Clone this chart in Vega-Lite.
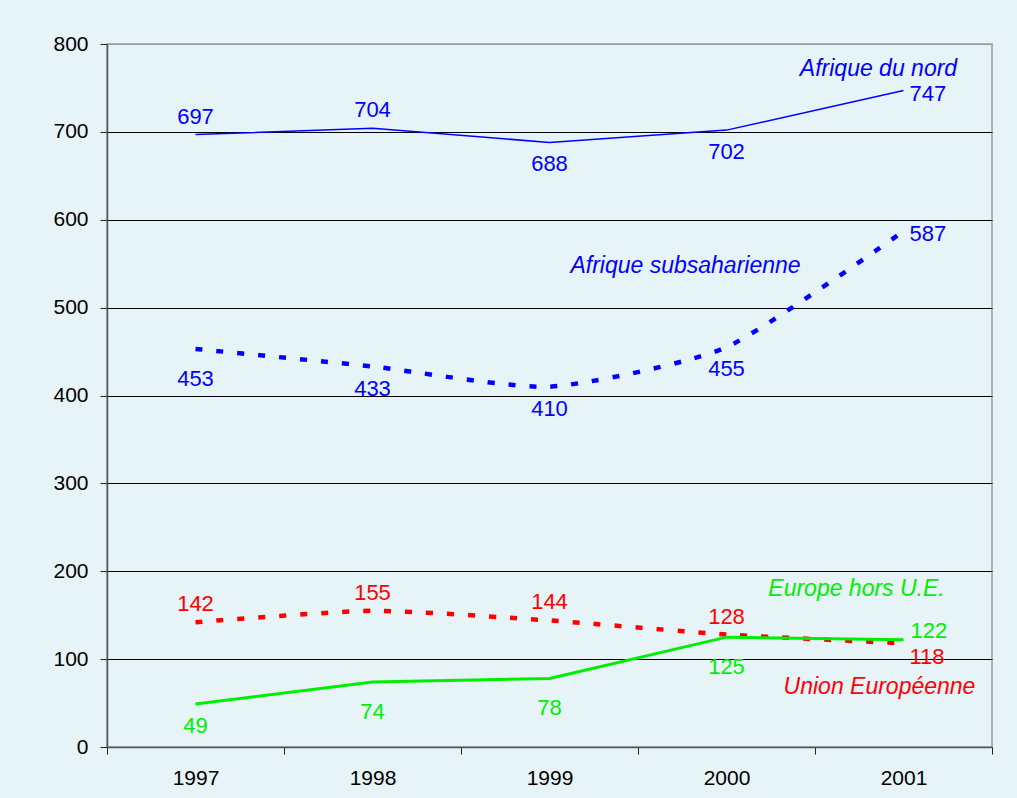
{
  "$schema": "https://vega.github.io/schema/vega-lite/v6.json",
  "width": 885,
  "height": 703,
  "autosize": {"type": "none"},
  "padding": {"left": 107, "top": 44, "right": 25, "bottom": 51},
  "background": "#E6F4F8",
  "config": {
    "font": "Liberation Sans",
    "view": {"stroke": "#9a9a9a", "strokeWidth": 1.5, "fill": "#E6F4F8"}
  },
  "data": {
    "values": [
      {"series": "Afrique du nord", "year": "1997", "value": 697},
      {"series": "Afrique du nord", "year": "1998", "value": 704},
      {"series": "Afrique du nord", "year": "1999", "value": 688},
      {"series": "Afrique du nord", "year": "2000", "value": 702},
      {"series": "Afrique du nord", "year": "2001", "value": 747},
      {"series": "Afrique subsaharienne", "year": "1997", "value": 453},
      {"series": "Afrique subsaharienne", "year": "1998", "value": 433},
      {"series": "Afrique subsaharienne", "year": "1999", "value": 410},
      {"series": "Afrique subsaharienne", "year": "2000", "value": 455},
      {"series": "Afrique subsaharienne", "year": "2001", "value": 587},
      {"series": "Union Européenne", "year": "1997", "value": 142},
      {"series": "Union Européenne", "year": "1998", "value": 155},
      {"series": "Union Européenne", "year": "1999", "value": 144},
      {"series": "Union Européenne", "year": "2000", "value": 128},
      {"series": "Union Européenne", "year": "2001", "value": 118},
      {"series": "Europe hors U.E.", "year": "1997", "value": 49},
      {"series": "Europe hors U.E.", "year": "1998", "value": 74},
      {"series": "Europe hors U.E.", "year": "1999", "value": 78},
      {"series": "Europe hors U.E.", "year": "2000", "value": 125},
      {"series": "Europe hors U.E.", "year": "2001", "value": 122}
    ]
  },
  "encoding": {
    "x": {
      "field": "year",
      "type": "ordinal",
      "bandPosition": 0.5,
      "scale": {"type": "band", "paddingInner": 0, "paddingOuter": 0},
      "axis": {
        "title": null,
        "tickBand": "extent",
        "labelAngle": 0,
        "labelFontSize": 21,
        "labelColor": "#000",
        "labelPadding": 13,
        "tickSize": 7,
        "tickColor": "#222",
        "domainColor": "#555",
        "domainWidth": 1.5
      }
    },
    "y": {
      "field": "value",
      "type": "quantitative",
      "scale": {"domain": [0, 800], "nice": false},
      "axis": {
        "title": null,
        "values": [0, 100, 200, 300, 400, 500, 600, 700, 800],
        "labelFontSize": 21,
        "labelColor": "#000",
        "labelPadding": 12,
        "tickSize": 7,
        "tickColor": "#222",
        "domainColor": "#555",
        "domainWidth": 1.5,
        "grid": true,
        "gridColor": {"condition": {"test": "datum.value === 800", "value": "#9a9a9a"}, "value": "#000"},
        "gridWidth": 1,
        "gridOpacity": 1
      }
    },
    "color": {
      "field": "series",
      "type": "nominal",
      "scale": {
        "domain": ["Afrique du nord", "Afrique subsaharienne", "Union Européenne", "Europe hors U.E."],
        "range": ["#0000FF", "#0000FF", "#FF0000", "#00EE00"]
      },
      "legend": null
    }
  },
  "layer": [
    {
      "transform": [{"filter": "datum.series === 'Afrique du nord'"}],
      "mark": {"type": "line", "color": "#0000FF", "strokeWidth": 1.5}
    },
    {
      "transform": [{"filter": "datum.series === 'Afrique subsaharienne'"}],
      "mark": {"type": "line", "color": "#0000FF", "strokeWidth": 4.5, "strokeDash": [7, 14], "interpolate": "cardinal", "tension": 0.4}
    },
    {
      "transform": [{"filter": "datum.series === 'Union Européenne'"}],
      "mark": {"type": "line", "color": "#FF0000", "strokeWidth": 4.5, "strokeDash": [7, 14], "interpolate": "cardinal", "tension": 0.4}
    },
    {
      "transform": [{"filter": "datum.series === 'Europe hors U.E.'"}],
      "mark": {"type": "line", "color": "#00EE00", "strokeWidth": 3}
    },
    {
      "transform": [{"filter": "(datum.series === 'Afrique du nord' && (datum.year === '1997' || datum.year === '1998')) || (datum.series === 'Union Européenne' && datum.year !== '2001')"}],
      "mark": {"type": "text", "fontSize": 22, "baseline": "middle", "dy": -18},
      "encoding": {"text": {"field": "value", "type": "quantitative"}}
    },
    {
      "transform": [{"filter": "(datum.series === 'Afrique du nord' && (datum.year === '1999' || datum.year === '2000')) || (datum.series === 'Afrique subsaharienne' && (datum.year === '1998' || datum.year === '1999' || datum.year === '2000')) || (datum.series === 'Europe hors U.E.' && datum.year === '1997')"}],
      "mark": {"type": "text", "fontSize": 22, "baseline": "middle", "dy": 22},
      "encoding": {"text": {"field": "value", "type": "quantitative"}}
    },
    {
      "transform": [{"filter": "(datum.series === 'Afrique subsaharienne' && datum.year === '1997') || (datum.series === 'Europe hors U.E.' && (datum.year === '1998' || datum.year === '1999' || datum.year === '2000'))"}],
      "mark": {"type": "text", "fontSize": 22, "baseline": "middle", "dy": 30},
      "encoding": {"text": {"field": "value", "type": "quantitative"}}
    },
    {
      "transform": [{"filter": "datum.year === '2001' && (datum.series === 'Afrique du nord' || datum.series === 'Afrique subsaharienne')"}],
      "mark": {"type": "text", "fontSize": 22, "baseline": "middle", "align": "left", "dx": 6, "dy": 3},
      "encoding": {"text": {"field": "value", "type": "quantitative"}}
    },
    {
      "transform": [{"filter": "datum.year === '2001' && datum.series === 'Europe hors U.E.'"}],
      "mark": {"type": "text", "fontSize": 22, "baseline": "middle", "align": "left", "dx": 7, "dy": -9},
      "encoding": {"text": {"field": "value", "type": "quantitative"}}
    },
    {
      "transform": [{"filter": "datum.year === '2001' && datum.series === 'Union Européenne'"}],
      "mark": {"type": "text", "fontSize": 22, "baseline": "middle", "align": "left", "dx": 6, "dy": 14},
      "encoding": {"text": {"field": "value", "type": "quantitative"}}
    },
    {
      "transform": [{"filter": "datum.year === '2001' && datum.series === 'Afrique du nord'"}],
      "mark": {"type": "text", "fontSize": 23, "fontStyle": "italic", "baseline": "middle", "align": "center", "dx": -25},
      "encoding": {"y": {"datum": 772}, "text": {"field": "series"}, "color": {"value": "#0000FF"}}
    },
    {
      "transform": [{"filter": "datum.year === '2000' && datum.series === 'Afrique subsaharienne'"}],
      "mark": {"type": "text", "fontSize": 23, "fontStyle": "italic", "baseline": "middle", "align": "center", "dx": -41},
      "encoding": {"y": {"datum": 547}, "text": {"field": "series"}, "color": {"value": "#0000FF"}}
    },
    {
      "transform": [{"filter": "datum.year === '2001' && datum.series === 'Europe hors U.E.'"}],
      "mark": {"type": "text", "fontSize": 23, "fontStyle": "italic", "baseline": "middle", "align": "center", "dx": -47},
      "encoding": {"y": {"datum": 180}, "text": {"field": "series"}, "color": {"value": "#00EE00"}}
    },
    {
      "transform": [{"filter": "datum.year === '2001' && datum.series === 'Union Européenne'"}],
      "mark": {"type": "text", "fontSize": 23, "fontStyle": "italic", "baseline": "middle", "align": "center", "dx": -24},
      "encoding": {"y": {"datum": 68}, "text": {"field": "series"}, "color": {"value": "#FF0000"}}
    }
  ]
}
